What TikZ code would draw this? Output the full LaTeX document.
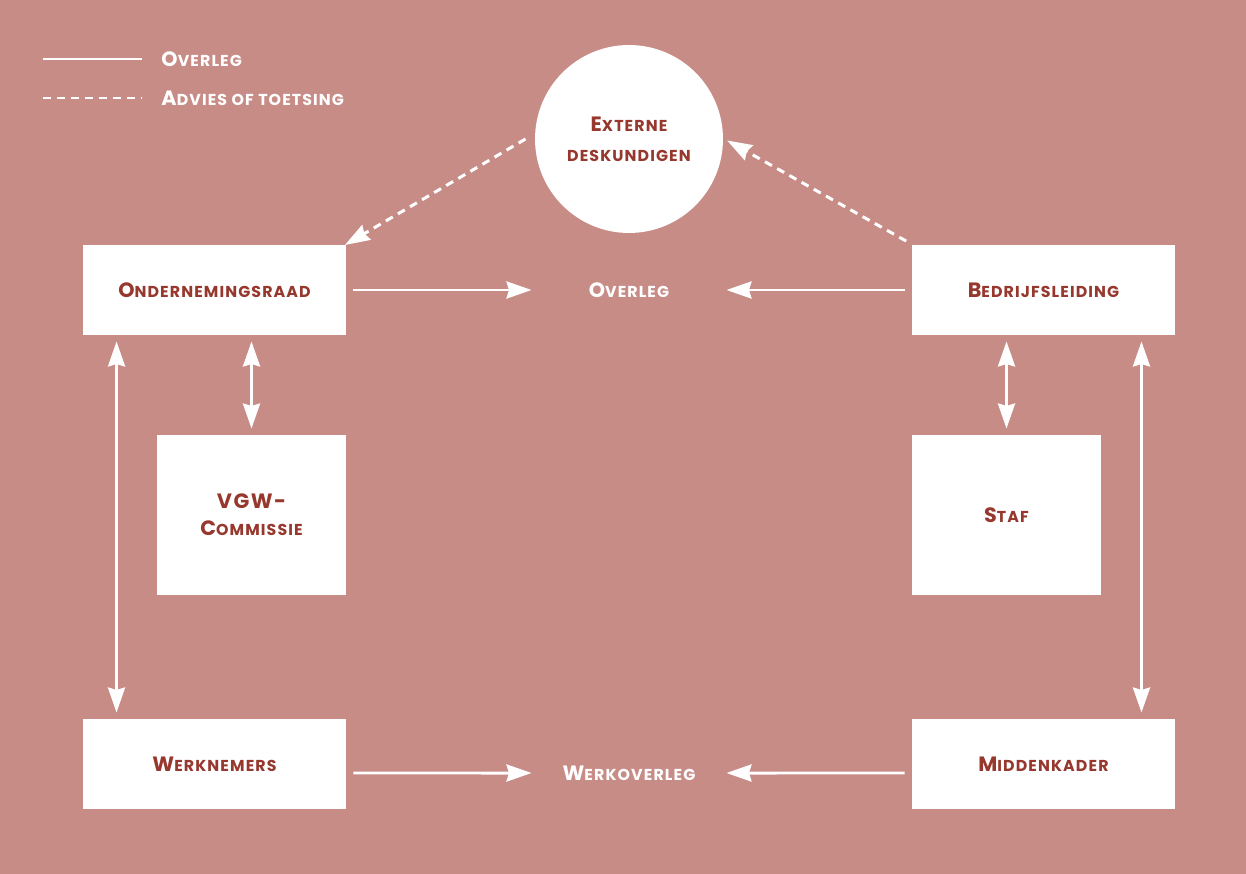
\documentclass[tikz,border=0pt]{standalone}
\usepackage{fontspec}
\newfontfamily\lblfont{Poppins}[LetterSpace=7]
\usetikzlibrary{arrows.meta}

\definecolor{rosebg}{RGB}{200,140,135}
\definecolor{labelred}{RGB}{150,56,46}

% fake small caps: big first part, small rest
\newcommand\smc[2]{{\fontsize{11.8}{14}\selectfont #1}{\fontsize{9}{14}\selectfont #2}}

\begin{document}
\begin{tikzpicture}[x=0.02cm,y=-0.02cm,
                    >={Stealth[length=0.5cm,width=0.34cm,inset=0.05cm]},
                    line width=1.7pt,draw=white,
                    box/.style={rectangle,fill=white,inner sep=0,align=center,
                                font=\lblfont\bfseries,text=labelred},
                    wide box/.style={box,minimum width=5.26cm,minimum height=1.8cm},
                    tall box/.style={box,minimum width=3.78cm,minimum height=3.2cm},
                    mid label/.style={inner sep=0,minimum width=3.8cm,
                                      font=\lblfont\bfseries,text=white},
                    solid arrow/.style={white,->,shorten <=0.12cm,shorten >=0.02cm},
                    both arrow/.style={white,<->,shorten <=0.1cm,shorten >=0.1cm},
                    dash arrow/.style={white,->,dash pattern=on 0.16cm off 0.12cm}]
  \fill[rosebg] (0,0) rectangle (1246,874);
  \useasboundingbox (0,0) rectangle (1246,874);

  % legend
  \coordinate (ls) at (43,59);
  \coordinate (ld) at (43,98);
  \node[anchor=west,inner sep=0,font=\lblfont\bfseries,text=white] (lg1) at (160,59) {\smc{O}{VERLEG}};
  \node[anchor=west,inner sep=0,font=\lblfont\bfseries,text=white] (lg2) at (160,98) {\smc{A}{DVIES OF TOETSING}};
  \draw[white] (ls) -- ([xshift=-0.36cm]lg1.west);
  \draw[white,dash pattern=on 0.16cm off 0.12cm] (ld) -- ([xshift=-0.36cm]lg2.west);

  % nodes
  \node[circle,fill=white,inner sep=0,minimum size=3.76cm,align=center,
        font=\lblfont\bfseries,text=labelred] (ext) at (629,139)
        {\smc{E}{XTERNE}\\[5pt]\smc{}{DESKUNDIGEN}};
  \node[wide box] (ond) at (214.5,290) {\smc{O}{NDERNEMINGSRAAD}};
  \node[wide box] (bed) at (1043.5,290) {\smc{B}{EDRIJFSLEIDING}};
  \node[tall box] (vgw) at (251.5,515)
        {\raisebox{-0.26cm}{\shortstack{\smc{VGW-}{}\\[4pt]\smc{C}{OMMISSIE}}}};
  \node[tall box] (staf) at (1006.5,515) {\smc{S}{TAF}};
  \node[wide box] (wrk) at (214.5,764) {\smc{W}{ERKNEMERS}};
  \node[wide box] (mid) at (1043.5,764) {\smc{M}{IDDENKADER}};
  \node[mid label] (ovl) at (629,290) {\smc{O}{VERLEG}};
  \node[mid label] (wov) at (629,773) {\smc{W}{ERKOVERLEG}};

  % connectors
  \path
    (ond.east) edge[solid arrow] (ovl.west)
    (bed.west) edge[solid arrow] (ovl.east)
    ([yshift=-0.18cm]wrk.east) edge[solid arrow] (wov.west)
    ([yshift=-0.18cm]mid.west) edge[solid arrow] (wov.east)
    (vgw.north |- ond.south) edge[both arrow] (vgw.north)
    (staf.north |- bed.south) edge[both arrow] (staf.north)
    ([xshift=0.7cm]ond.south west) edge[both arrow] ([xshift=0.7cm]wrk.north west)
    ([xshift=-0.7cm]bed.south east) edge[both arrow] ([xshift=-0.7cm]mid.north east)
    ([xshift=-0.16cm]ext.west) edge[dash arrow,shorten >=-0.06cm] (ond.north east)
    (bed.north west) edge[dash arrow,shorten <=0.1cm,shorten >=0.06cm] (ext.east)
    ;
\end{tikzpicture}
\end{document}
